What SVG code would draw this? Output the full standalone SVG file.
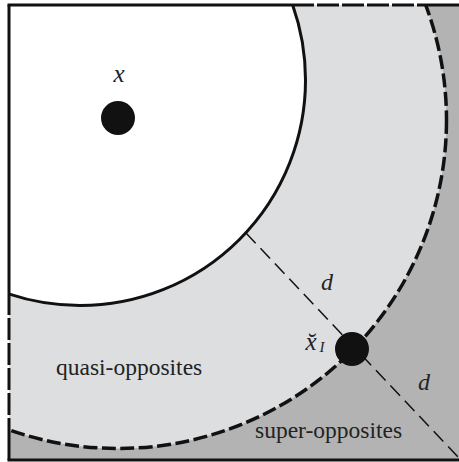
<svg xmlns="http://www.w3.org/2000/svg" width="459" height="462" viewBox="0 0 459 462">
<style>
.lbl{font-family:'Liberation Serif','DejaVu Serif',serif;fill:#222;}
.math{font-family:'Liberation Serif','DejaVu Serif',serif;font-style:italic;fill:#222;}
.border{stroke:#111;stroke-width:3;fill:none;}
.bdash{stroke:#111;stroke-width:3;fill:none;stroke-dasharray:22 3;}
.dot{fill:#111;}
</style>
<defs>
<clipPath id="frame"><rect x="9" y="5" width="451" height="455"/></clipPath>
</defs>
<rect width="459" height="462" fill="#fff"/>
<g id="regions" clip-path="url(#frame)">
<rect id="super-region" x="9" y="5" width="451" height="455" fill="#b3b3b3"/>
<circle id="quasi-region" cx="118" cy="120" r="328.5" fill="#dddee0"/>
<circle id="inner-ball" cx="80" cy="80" r="225.5" fill="#fff" stroke="#111" stroke-width="3"/>
<circle id="outer-boundary" cx="118" cy="120" r="328.5" fill="none" stroke="#111" stroke-width="3.5" stroke-dasharray="14 4.5"/>
</g>
<g id="frame-border">
<line class="border" x1="7.5" y1="5" x2="292" y2="5"/>
<line class="bdash" x1="292" y1="5" x2="427" y2="5"/>
<line class="border" x1="427" y1="5" x2="461" y2="5"/>
<line class="border" x1="9" y1="5" x2="9" y2="293"/>
<line class="bdash" x1="9" y1="293" x2="9" y2="430"/>
<line class="border" x1="9" y1="430" x2="9" y2="460"/>
<line class="border" x1="7.5" y1="460" x2="461" y2="460"/>
</g>
<g id="connectors">
<line id="d-line" x1="246" y1="233" x2="460" y2="459" stroke="#111" stroke-width="1.5" stroke-dasharray="14 7"/>
</g>
<g id="node-x">
<circle class="dot" cx="118" cy="118" r="17"/>
<text class="math" x="119" y="82" font-size="25" text-anchor="middle" font-family="'Liberation Serif', 'DejaVu Serif', serif">x</text>
</g>
<g id="node-xI">
<circle class="dot" cx="352" cy="349" r="17"/>
<text class="math" x="311" y="350" font-size="25" text-anchor="middle" font-family="'Liberation Serif', 'DejaVu Serif', serif">x̆</text>
<text class="math" x="322" y="352" font-size="15" text-anchor="middle" font-family="'Liberation Serif', 'DejaVu Serif', serif">I</text>
</g>
<g id="labels">
<text class="math" x="327" y="290" font-size="24" text-anchor="middle" font-family="'Liberation Serif', 'DejaVu Serif', serif">d</text>
<text class="math" x="424" y="390" font-size="24" text-anchor="middle" font-family="'Liberation Serif', 'DejaVu Serif', serif">d</text>
<text class="lbl" x="56" y="375" font-size="23.5" font-family="'Liberation Serif', 'DejaVu Serif', serif">quasi-opposites</text>
<text class="lbl" x="255" y="438" font-size="23.5" font-family="'Liberation Serif', 'DejaVu Serif', serif">super-opposites</text>
</g>
</svg>
